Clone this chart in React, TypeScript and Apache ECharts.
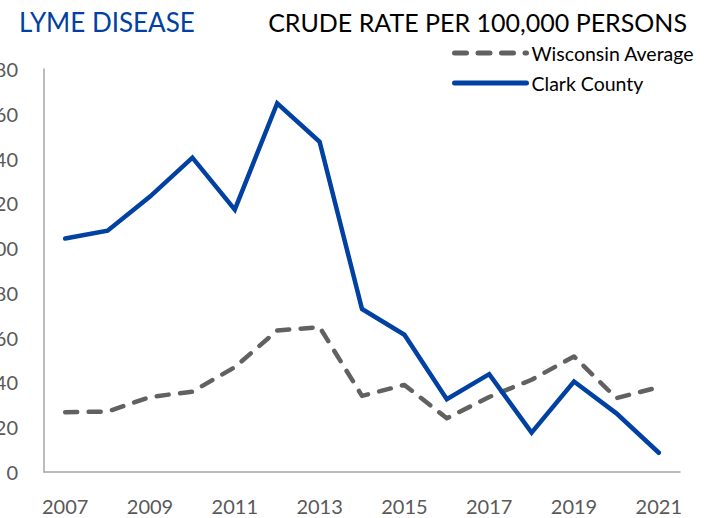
import React, { useEffect, useRef } from "react";
import * as echarts from "echarts";

const years = ["2007","2008","2009","2010","2011","2012","2013","2014","2015","2016","2017","2018","2019","2020","2021"];
const clarkCounty = [104.3, 107.8, 123, 140.4, 117.2, 164.7, 147.5, 72.8, 61.3, 32.5, 43.7, 17.6, 40.4, 26.2, 8.6];
const wisconsinAverage = [26.7, 27, 33.5, 35.9, 46.8, 63.2, 64.7, 34, 38.9, 24, 33.5, 41.2, 51.6, 33, 37.9];
const yTicks = { min: 0, max: 180, interval: 20 };

const FONT = "Lato, 'Open Sans', sans-serif";

export default function App() {
  const ref = useRef<HTMLDivElement>(null);
  useEffect(() => {
    if (!ref.current) return;
    const chart = echarts.init(ref.current, undefined, { renderer: "svg" });
    chart.setOption({
      animation: false,
      backgroundColor: "#ffffff",
      textStyle: { fontFamily: FONT },
      title: [
        {
          text: "LYME DISEASE",
          left: 14,
          top: 4,
          textStyle: { color: "#0041A3", fontSize: 26, fontWeight: "normal", fontFamily: FONT },
        },
        {
          text: "CRUDE RATE PER 100,000 PERSONS",
          right: 18,
          top: 4,
          textStyle: { color: "#000000", fontSize: 25, fontWeight: "normal", fontFamily: FONT },
        },
      ],
      legend: {
        orient: "vertical",
        left: 452,
        top: 43,
        padding: 0,
        itemWidth: 72,
        itemHeight: 14,
        itemGap: 10,
        itemStyle: { opacity: 0 },
        lineStyle: { width: 5, cap: "round" },
        textStyle: { color: "#000000", fontSize: 19.5, lineHeight: 20, fontFamily: FONT },
        data: ["Wisconsin Average", "Clark County"],
      },
      grid: { left: 44, right: 30, top: 69, bottom: 46, containLabel: false, outerBoundsMode: "none" },
      xAxis: {
        type: "category",
        data: years,
        boundaryGap: true,
        axisLine: { show: true, lineStyle: { color: "#a6a6a6", width: 1.5 } },
        axisTick: { show: false },
        axisLabel: { interval: 1, color: "#595959", fontSize: 20, margin: 24, fontFamily: FONT },
        splitLine: { show: false },
      },
      yAxis: {
        type: "value",
        min: yTicks.min,
        max: yTicks.max,
        interval: yTicks.interval,
        axisLine: { show: true, lineStyle: { color: "#a6a6a6", width: 1.5 } },
        axisTick: { show: false },
        axisLabel: { color: "#595959", fontSize: 20, margin: 26, fontFamily: FONT },
        splitLine: { show: false },
      },
      series: [
        {
          name: "Wisconsin Average",
          type: "line",
          data: wisconsinAverage,
          symbol: "none",
          color: "#636060",
          lineStyle: { color: "#636060", width: 4.5, type: [12, 11.5], cap: "round", join: "round" },
          z: 2,
        },
        {
          name: "Clark County",
          type: "line",
          data: clarkCounty,
          symbol: "none",
          color: "#0041A3",
          lineStyle: { color: "#0041A3", width: 4.5, cap: "round", join: "miter" },
          z: 3,
        },
      ],
    });
    return () => chart.dispose();
  }, []);
  return (
    <div
      ref={ref}
      style={{ position: "fixed", left: 0, top: 0, width: 710, height: 518 }}
    />
  );
}
